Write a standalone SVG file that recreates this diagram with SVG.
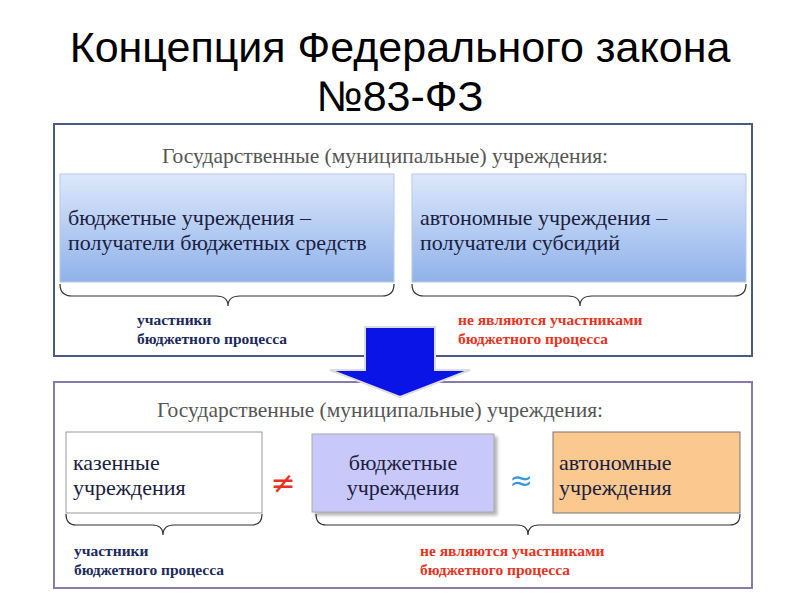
<svg xmlns="http://www.w3.org/2000/svg" width="800" height="600" viewBox="0 0 800 600">
<style>
.t{font-family:"Liberation Sans",Arial,sans-serif;font-size:43px;fill:#000;text-anchor:middle}
.s{font-family:"Liberation Serif","DejaVu Serif",serif;font-size:21.5px;fill:#555}
.b{font-family:"Liberation Serif","DejaVu Serif",serif;font-size:22px;fill:#1a2040}
.l{font-family:"Liberation Serif","DejaVu Serif",serif;font-size:15.5px;font-weight:bold}
.n{fill:#1c2a5c}.r{fill:#e8321e}
.br{fill:none;stroke:#333;stroke-width:1.2}
</style>
<defs>
<linearGradient id="g" x1="0" y1="0" x2="0" y2="1"><stop offset="0" stop-color="#dde8fb"/><stop offset="1" stop-color="#8fb2ea"/></linearGradient>
<filter id="sh" x="-10%" y="-10%" width="130%" height="130%"><feDropShadow dx="3" dy="3" stdDeviation="1.5" flood-color="#888" flood-opacity="0.6"/></filter>
</defs>
<text class="t" x="400" y="62">Концепция Федерального закона</text>
<text class="t" x="400" y="111">№83-ФЗ</text>
<g id="top">
<rect x="54" y="124" width="698" height="232" fill="#fff" stroke="#4a5a80" stroke-width="2"/>
<text class="s" x="385" y="163" text-anchor="middle">Государственные (муниципальные) учреждения:</text>
</g>
<g id="box1"><rect x="60" y="174" width="334" height="108" fill="url(#g)" stroke="#b8c8e8"/>
<text class="b" x="68" y="225">бюджетные учреждения –</text><text class="b" x="68" y="250">получатели бюджетных средств</text></g>
<g id="box2"><rect x="412" y="174" width="334" height="108" fill="url(#g)" stroke="#b8c8e8"/>
<text class="b" x="420" y="225">автономные учреждения –</text><text class="b" x="420" y="250">получатели субсидий</text></g>
<g id="labels1">
<text class="l n" x="137" y="325">участники</text><text class="l n" x="137" y="344">бюджетного процесса</text>
<text class="l r" x="458" y="325">не являются участниками</text><text class="l r" x="458" y="344">бюджетного процесса</text>
</g>
<g id="bottom">
<rect x="54" y="382" width="698" height="206" fill="#fff" stroke="#8a7aaa" stroke-width="2"/>
<text class="s" x="380" y="417" text-anchor="middle">Государственные (муниципальные) учреждения:</text>
</g>
<g id="arrow"><path d="M365,327 H435 V370 H470 L400,397 L330,370 H365 Z" fill="#0a14e6" stroke="#ddd" stroke-width="2"/></g>
<g id="kaz"><rect x="66" y="432" width="196" height="81" fill="#fff" stroke="#999"/>
<text class="b" x="73" y="470">казенные</text><text class="b" x="73" y="495">учреждения</text></g>
<g id="bud"><rect x="312" y="434" width="182" height="78" fill="#c8c8fa" stroke="#aaa" filter="url(#sh)"/>
<text class="b" x="403" y="470" text-anchor="middle">бюджетные</text><text class="b" x="403" y="495" text-anchor="middle">учреждения</text></g>
<g id="auto"><rect x="553" y="432" width="187" height="81" fill="#fbc890" stroke="#777"/>
<text class="b" x="559" y="470">автономные</text><text class="b" x="559" y="495">учреждения</text></g>
<text x="283" y="493" font-family="DejaVu Sans,sans-serif" font-size="30" fill="#e8321e" text-anchor="middle">≠</text>
<text x="521" y="490" font-family="DejaVu Sans,sans-serif" font-size="28" fill="#3399dd" text-anchor="middle">≈</text>
<g id="connectors">
<path class="br" d="M60,284 Q60,296 72,296 H216 Q228,296 228,306 Q228,296 240,296 H382 Q394,296 394,284"/>
<path class="br" d="M412,284 Q412,296 424,296 H568 Q580,296 580,306 Q580,296 592,296 H734 Q746,296 746,284"/>
<path class="br" d="M66,514 Q66,525 76,525 H152 Q163,525 163,535 Q163,525 174,525 H252 Q262,525 262,514"/>
<path class="br" d="M316,514 Q316,525 326,525 H517 Q528,525 528,535 Q528,525 539,525 H730 Q740,525 740,514"/>
</g>
<g id="labels2">
<text class="l n" x="74" y="556">участники</text><text class="l n" x="74" y="575">бюджетного процесса</text>
<text class="l r" x="420" y="556">не являются участниками</text><text class="l r" x="420" y="575">бюджетного процесса</text>
</g>
</svg>
